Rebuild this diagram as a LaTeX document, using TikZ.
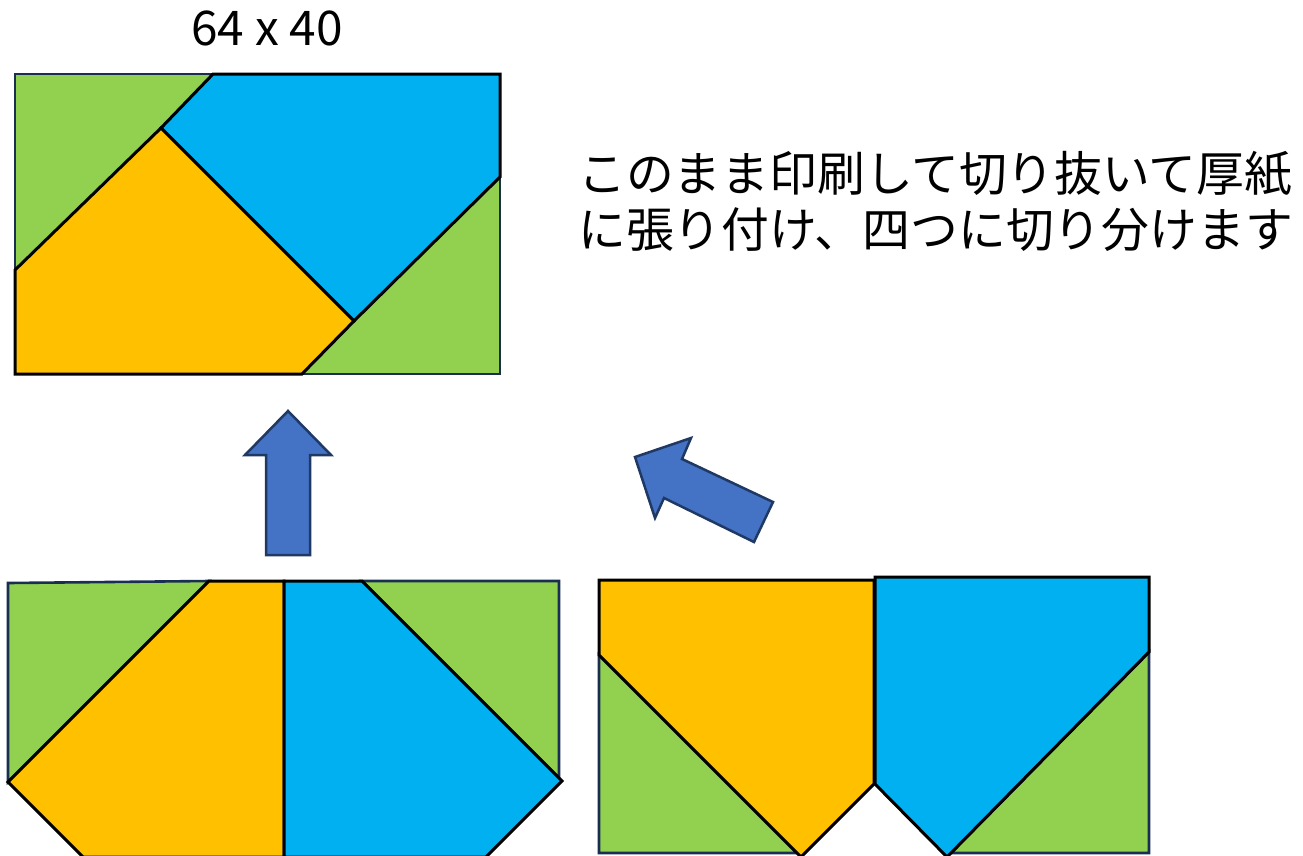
\documentclass[tikz,border=0pt]{standalone}
\usepackage{fontspec}
\newfontfamily\jpfont{Noto Sans CJK JP}
\definecolor{pgreen}{HTML}{92D050}
\definecolor{pyellow}{HTML}{FFC000}
\definecolor{pblue}{HTML}{00B0F0}
\definecolor{navy}{HTML}{1A2E52}
\definecolor{afill}{HTML}{4472C4}
\definecolor{aline}{HTML}{1F3864}
\begin{document}
\begin{tikzpicture}[x=1pt,y=-1pt,
  greenpart/.style={fill=pgreen, draw=navy, line width=2.6pt, line join=miter},
  yellowpart/.style={fill=pyellow, draw=black, line width=3pt, line join=miter},
  bluepart/.style={fill=pblue, draw=black, line width=3pt, line join=miter},
  bigarrow/.style={fill=afill, draw=aline, line width=2.5pt, line join=miter},
  label/.style={font=\jpfont\fontsize{47.8pt}{56pt}\selectfont, inner sep=0pt}]
\useasboundingbox (0,0) rectangle (1303,855);
\begin{scope}
\clip (0,0) rectangle (1303,855);
% ---- top rectangle 64 x 40
\draw[greenpart] (15,74) rectangle (500,374);
\draw[bluepart] (213,74) -- (500,74) -- (500,177) -- (354,321) -- (161,128) -- cycle;
\draw[yellowpart] (161,128) -- (354,321) -- (302,374) -- (15,374) -- (15,270) -- cycle;
% ---- arrows
\draw[bigarrow] (288,411) -- (331,455) -- (310,455) -- (310,555) -- (266,555) -- (266,455) -- (245,455) -- cycle;
\draw[bigarrow] (635,457) -- (691,438) -- (682,459) -- (773,502) -- (754,542) -- (664,498) -- (655,518) -- cycle;
% ---- bottom-left arrangement
\draw[greenpart] (8,583) -- (209,581) -- (8,782) -- cycle;
\draw[greenpart] (362,581) -- (559,581) -- (559,778) -- cycle;
\draw[yellowpart] (209,581) -- (284,581) -- (284,857) -- (83,857) -- (8,782) -- cycle;
\draw[bluepart] (284,581) -- (362,581) -- (562,781) -- (486,857) -- (284,857) -- cycle;
% ---- bottom-right arrangement
\draw[greenpart] (599,655) -- (599,853) -- (797,853) -- cycle;
\draw[greenpart] (1149,652) -- (1149,853) -- (951,853) -- cycle;
\draw[yellowpart] (599,580) -- (874,580) -- (874,784) -- (801,857) -- (599,655) -- cycle;
\draw[bluepart] (875,577) -- (1149,577) -- (1149,652) -- (947,857) -- (875,784) -- cycle;
\end{scope}
% ---- texts
\node[label, anchor=base] (size) at (267,45) {64 x 40};
\node[label, anchor=base west] (line1) at (578,191) {このまま印刷して切り抜いて厚紙};
\node[label, anchor=base west] (line2) at (578,247) {に張り付け、四つに切り分けます};
\end{tikzpicture}
\end{document}
